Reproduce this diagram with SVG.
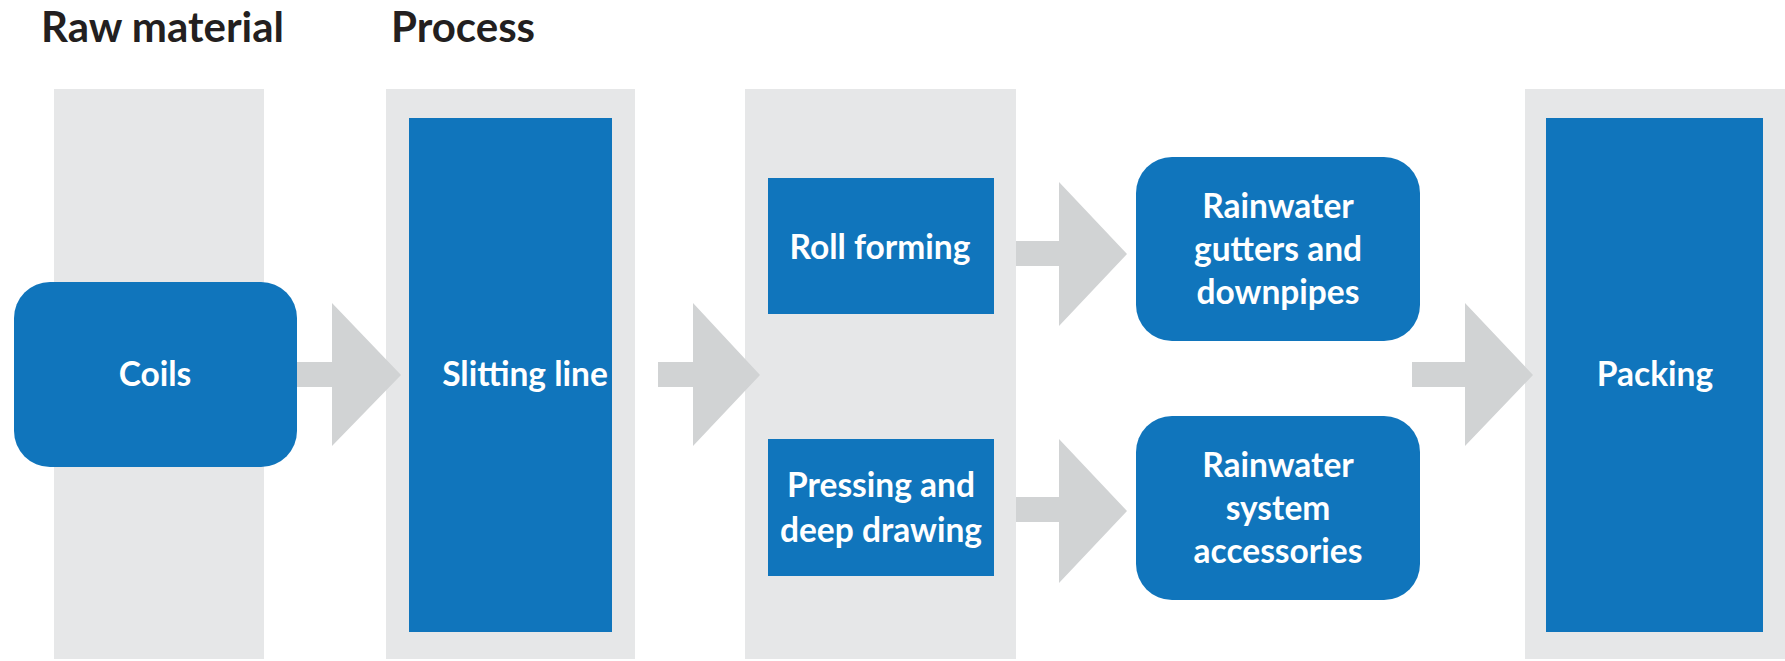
<svg xmlns="http://www.w3.org/2000/svg" width="1785" height="661" viewBox="0 0 1785 661">
<style>
.bg{fill:#E6E7E8}
.node{fill:#1075BC}
.arr{fill:#D1D3D4}
.lbl{font-family:Lato,"Liberation Sans",sans-serif;font-weight:bold;font-size:33.5px;fill:#FFFFFF;text-anchor:middle}
.ttl{font-family:Lato,"Liberation Sans",sans-serif;font-weight:bold;font-size:42px;fill:#231F20}
</style>
<rect width="1785" height="661" fill="#FFFFFF"/>
<g id="columns">
<rect class="bg" x="54" y="89" width="210" height="570"/>
<rect class="bg" x="386" y="89" width="249" height="570"/>
<rect class="bg" x="745" y="89" width="271" height="570"/>
<rect class="bg" x="1525" y="89" width="260" height="570"/>
</g>
<g id="titles">
<text class="ttl" x="41" y="42">Raw material</text>
<text class="ttl" x="391" y="42">Process</text>
</g>
<g id="connectors">
<path class="arr" d="M297,362 H332 V303 L401,375 L332,446 V387 H297 Z"/>
<path class="arr" d="M658,362 H693 V303 L760,375 L693,446 V387 H658 Z"/>
<path class="arr" d="M1016,241 H1059 V182 L1127,254 L1059,326 V266 H1016 Z"/>
<path class="arr" d="M1016,497 H1059 V439 L1127,511 L1059,583 V522 H1016 Z"/>
<path class="arr" d="M1412,362 H1465 V303 L1533,375 L1465,446 V387 H1412 Z"/>
</g>
<g id="coils">
<rect class="node" x="14" y="282" width="283" height="185" rx="36"/>
<text class="lbl" x="155" y="386">Coils</text>
</g>
<g id="slitting">
<rect class="node" x="409" y="118" width="203" height="514"/>
<text class="lbl" x="525" y="386">Slitting line</text>
</g>
<g id="rollforming">
<rect class="node" x="768" y="178" width="226" height="136"/>
<text class="lbl" x="880" y="259">Roll forming</text>
</g>
<g id="pressing">
<rect class="node" x="768" y="439" width="226" height="137"/>
<text class="lbl" x="881" y="497">Pressing and</text>
<text class="lbl" x="881" y="542">deep drawing</text>
</g>
<g id="gutters">
<rect class="node" x="1136" y="157" width="284" height="184" rx="36"/>
<text class="lbl" x="1278" y="218">Rainwater</text>
<text class="lbl" x="1278" y="261">gutters and</text>
<text class="lbl" x="1278" y="304">downpipes</text>
</g>
<g id="accessories">
<rect class="node" x="1136" y="416" width="284" height="184" rx="36"/>
<text class="lbl" x="1278" y="477">Rainwater</text>
<text class="lbl" x="1278" y="520">system</text>
<text class="lbl" x="1278" y="563">accessories</text>
</g>
<g id="packing">
<rect class="node" x="1546" y="118" width="217" height="514"/>
<text class="lbl" x="1655" y="386">Packing</text>
</g>
</svg>
